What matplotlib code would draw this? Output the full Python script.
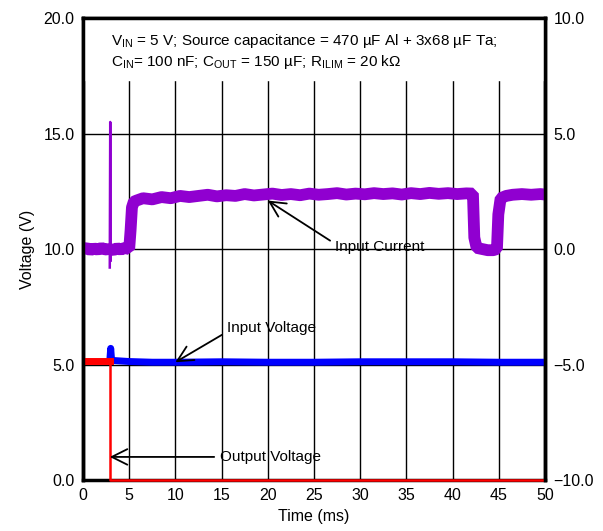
import matplotlib
matplotlib.use("Agg")
import matplotlib.pyplot as plt

plt.rcParams['font.family'] = ['Liberation Sans', 'DejaVu Sans']
plt.rcParams['mathtext.fontset'] = 'custom'
plt.rcParams['mathtext.rm'] = 'Liberation Sans'
plt.rcParams['mathtext.default'] = 'rm'

# Input current (A, right axis)
cur_t = [0.0, 0.4, 0.8, 1.2, 1.6, 2.0, 2.4, 2.9, 3.3, 3.7, 4.1, 4.5, 5.0, 5.15, 5.3, 5.5,
         5.8, 6.5, 7.5, 8.5, 9.5, 10.5, 11.5, 12.5, 13.5, 14.5, 15.5, 16.5, 17.5,
         18.5, 19.5, 20.5, 21.5, 22.5, 23.5, 24.5, 25.5, 26.5, 27.5, 28.5, 29.5,
         30.5, 31.5, 32.5, 33.5, 34.5, 35.5, 36.5, 37.5, 38.5, 39.5, 40.5, 41.5,
         42.2, 42.35, 42.6, 43.2, 43.8, 44.4, 44.8, 44.95, 45.2, 45.8, 46.5, 47.5,
         48.5, 49.5, 50.0]
cur_a = [0.0, 0.05, -0.05, 0.03, -0.03, 0.05, -0.02, 0.0, -0.05, 0.04, -0.03, 0.05, 0.0, 0.8, 1.8, 2.05,
         2.1, 2.2, 2.15, 2.25, 2.2, 2.3, 2.25, 2.3, 2.35, 2.28, 2.33, 2.3, 2.38,
         2.32, 2.36, 2.4, 2.34, 2.38, 2.33, 2.4, 2.35, 2.38, 2.42, 2.36, 2.4,
         2.37, 2.42, 2.38, 2.41, 2.36, 2.42, 2.38, 2.43, 2.39, 2.42, 2.38, 2.41,
         2.4, 0.5, 0.05, 0.0, -0.05, -0.05, 0.0, 1.5, 2.2, 2.3, 2.35, 2.38,
         2.35, 2.38, 2.36]
spike_t = [2.9, 2.95, 3.0]
spike_a = [-0.8, 5.5, -0.5]

# Input voltage (V)
vin_t = [2.9, 3.0, 3.1, 5.0, 7.5, 10.0, 15.0, 20.0, 25.0, 30.0, 35.0, 40.0, 45.0, 50.0]
vin_v = [5.15, 5.7, 5.18, 5.13, 5.1, 5.1, 5.12, 5.1, 5.1, 5.12, 5.12, 5.12, 5.1, 5.1]

# Output voltage (V)
vout_t = [0.0, 2.9, 2.9, 50.0]
vout_v = [5.15, 5.15, 0.0, 0.0]

fig = plt.figure(figsize=(6.03, 5.31), dpi=100)
ax = fig.add_axes([0.1376, 0.096, 0.7662, 0.87])
ax2 = ax.twinx()

ax.set_xlim(0, 50)
ax.set_ylim(0, 20)
ax2.set_ylim(-10, 10)

ax.set_xticks(range(0, 51, 5))
ax.set_yticks([0, 5, 10, 15, 20])
ax.set_yticklabels(['0.0', '5.0', '10.0', '15.0', '20.0'])
ax2.set_yticks([-10, -5, 0, 5, 10])
ax2.set_yticklabels(['\u221210.0', '\u22125.0', '0.0', '5.0', '10.0'])
ax.grid(True, color='black', linewidth=1.0)
ax.set_axisbelow(True)

for a in (ax, ax2):
    a.tick_params(length=0, labelsize=11.5, pad=6)
    for s in a.spines.values():
        s.set_linewidth(2.5)
ax2.spines['bottom'].set_visible(False)

ax.plot(vin_t, vin_v, color='#0000ff', linewidth=5, zorder=3)
ax.plot(vout_t, vout_v, color='#ff0000', linewidth=1.8, zorder=4, clip_on=False)
ax.plot(vout_t[:2], vout_v[:2], color='#ff0000', linewidth=5, zorder=4)
ax2.plot(cur_t, cur_a, color='#9000d0', linewidth=8.5, solid_joinstyle='bevel')
ax2.plot(spike_t, spike_a, color='#9000d0', linewidth=1.8)

# text box
ax2.axhspan(7.3, 10, color='white', zorder=2.2)
ax2.text(3.0, 9.0, 'V$_{\\mathrm{IN}}$ = 5 V; Source capacitance = 470 \u00b5F Al + 3x68 \u00b5F Ta;',
         fontsize=11, va='center', zorder=5)
ax2.text(3.0, 8.1, 'C$_{\\mathrm{IN}}$= 100 nF; C$_{\\mathrm{OUT}}$ = 150 \u00b5F; R$_{\\mathrm{ILIM}}$ = 20 k\u03a9',
         fontsize=11, va='center', zorder=5)

arrow = dict(arrowstyle='->', color='black', linewidth=1.3, mutation_scale=28,
             shrinkA=2, shrinkB=0)
ax2.annotate('Input Current', xy=(20.0, 2.1), xytext=(27.3, 0.1), fontsize=11,
             va='center', arrowprops=dict(arrow, relpos=(0, 0.7)), zorder=6)
ax2.annotate('Input Voltage', xy=(10.0, -4.9), xytext=(15.6, -3.4), fontsize=11,
             va='center', arrowprops=dict(arrow, relpos=(0, 0.2)), zorder=6)
ax2.annotate('Output Voltage', xy=(2.9, -9.0), xytext=(14.8, -9.0), fontsize=11,
             va='center', arrowprops=dict(arrow, relpos=(0, 0.5)), zorder=6)

ax.set_xlabel('Time (ms)', fontsize=11.5, labelpad=4)
ax.set_ylabel('Voltage (V)', fontsize=11.5, labelpad=6)

fig.savefig('out.png', dpi=100)
